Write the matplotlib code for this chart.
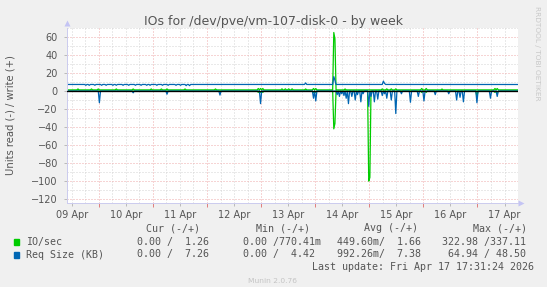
import numpy as np
import matplotlib
matplotlib.use('Agg')
import matplotlib.pyplot as plt
import matplotlib.dates as mdates
from matplotlib.patches import Rectangle
from datetime import datetime, timedelta

W, H = 547, 287

# graph window, 30 minute samples like munin's weekly rra
start = datetime(2026, 4, 9, 9, 45)
span_hours = 200
step = 0.5

# values (hours after start -> value),
# every other sample sits at the base value
io_write_base = 1.26
io_write_hours = [5, 11, 14, 22, 29.5, 37.5, 42, 44.5, 52.5, 66, 85, 86, 87,
                  95.5, 97, 98.5, 100, 106, 109.5, 110.5, 118.5, 119, 123.5,
                  140, 142, 144, 146, 157.5, 159.5, 166.5, 190, 191]
io_write_vals = [2.3, 2.3, 2.3, 2.3, 2.3, 2.3, 2.3, 2.3, 2.3, 2.3, 2.8, 2.8, 2.8,
                 2.4, 2.4, 2.4, 2.4, 2.3, 2.8, 2.8, 65, 58, 2.3,
                 2.4, 2.4, 2.4, 2.4, 2.8, 2.8, 2.2, 2.8, 2.8]

io_read_base = 0.0
io_read_hours = [85, 86, 87, 109.5, 110.5, 118.5, 119, 134, 134.5, 157.5,
                 159.5, 182, 190, 191]
io_read_vals = [1.5, 1.5, 1.5, 1.5, 1.5, 42, 36, 100, 96, 1.5,
                1.5, 6, 1.5, 1.5]

req_write_base = 7.3
req_write_hours = [8.5, 10, 12.5, 15.5, 17.5, 20.5, 22, 25, 27.5, 30.5, 33,
                   35.5, 37, 40, 42.5, 45, 48.5, 50.5, 53, 54.5,
                   106, 118.5, 119, 140.5, 141, 200]
req_write_vals = [6.4, 6.4, 6.4, 6.4, 6.4, 6.4, 6.4, 6.4, 6.4, 6.4, 6.4,
                  6.4, 6.4, 6.4, 6.4, 6.4, 6.4, 6.4, 6.0, 6.0,
                  9, 16, 12, 11, 8.5, 7.26]

req_read_base = 0.0
req_read_hours = [14.5, 29.5, 44.5, 68, 86, 109.5, 110.5, 120, 121, 122, 123,
                  124, 125, 126.5, 128, 129, 130.5, 131.5, 134, 135, 136.5,
                  138, 140, 141, 142.2, 144.2, 146, 148.5, 152.5, 156, 158.5,
                  163.5, 169.5, 173, 174.5, 176, 182, 188, 191]
req_read_vals = [13, 2, 3.5, 4.5, 14, 8, 11, 4, 6, 3, 5,
                 8, 14, 6, 10, 4, 12, 3, 17, 6, 12,
                 9, 5, 3, 8, 10, 25, 3, 12.5, 6, 11,
                 4, 3, 10, 7, 12, 13, 8, 6]

day_labels = ['09 Apr', '10 Apr', '11 Apr', '12 Apr', '13 Apr', '14 Apr',
              '15 Apr', '16 Apr', '17 Apr']
day_numbers = [9, 10, 11, 12, 13, 14, 15, 16, 17]

legend_names = ['IO/sec', 'Req Size (KB)']
legend_colors = ['#00CC00', '#0066B3']
legend_headers = ['Cur (-/+)', 'Min (-/+)', 'Avg (-/+)', 'Max (-/+)']
legend_cur = ['0.00 /  1.26', '0.00 /  7.26']
legend_min = ['0.00 /770.41m', '0.00 /  4.42']
legend_avg = ['449.60m/  1.66', '992.26m/  7.38']
legend_max = ['322.98 /337.11', ' 64.94 / 48.50']
last_update = 'Last update: Fri Apr 17 17:31:24 2026'


def build(base, hours, vals):
    n = int(span_hours / step) + 1
    s = np.full(n, base, dtype=float)
    for h, v in zip(hours, vals):
        s[int(round(h / step))] = v
    return s


def fx(px):
    return px / W


def fy(py):
    return 1 - py / H


times = [start + timedelta(hours=step * k) for k in range(int(span_hours / step) + 1)]
io_write = build(io_write_base, io_write_hours, io_write_vals)
io_read = build(io_read_base, io_read_hours, io_read_vals)
req_write = build(req_write_base, req_write_hours, req_write_vals)
req_read = build(req_read_base, req_read_hours, req_read_vals)

fig = plt.figure(figsize=(W / 100, H / 100), dpi=100, facecolor='#F0F0F0')
left, right, top, bottom = 66.7, 517.5, 28, 202.7
ax = fig.add_axes([fx(left), fy(bottom), (right - left) / W, (bottom - top) / H])
ax.set_facecolor('white')

t_end = start + timedelta(hours=span_hours)
ax.set_xlim(start, t_end)
ax.set_ylim(-124, 70)

# grid: gray every 6 hours / 10 units, red at midnight / every 20
minor_ls = (0, (1, 2))
t = datetime(2026, 4, 9, 12)
while t < t_end:
    if t.hour == 0:
        ax.axvline(t, color='#eeaaaa', lw=0.72, ls=minor_ls, zorder=0.5)
    else:
        ax.axvline(t, color='#d4d4d4', lw=0.72, ls=minor_ls, zorder=0.5)
    t += timedelta(hours=6)
for y in range(-120, 71, 10):
    if y % 20 == 0:
        ax.axhline(y, color='#eeaaaa', lw=0.72, ls=minor_ls, zorder=0.5)
    else:
        ax.axhline(y, color='#d4d4d4', lw=0.72, ls=minor_ls, zorder=0.5)

# series, negative side is the read value
ax.plot(times, -io_read, color='#00CC00', lw=0.9, zorder=2)
ax.plot(times, io_write, color='#00CC00', lw=0.9, zorder=2)
ax.plot(times, -req_read, color='#0066B3', lw=0.9, zorder=2)
ax.plot(times, req_write, color='#0066B3', lw=0.9, zorder=2)
ax.axhline(0, color='black', lw=0.95, zorder=3)

# axes
for side in ['top', 'right']:
    ax.spines[side].set_visible(False)
for side in ['left', 'bottom']:
    ax.spines[side].set_color('#ccccee')
    ax.spines[side].set_linewidth(0.72)
ax.plot([0], [1.027], marker='^', ms=4.5, color='#c4c4f4', mec='none',
        transform=ax.transAxes, clip_on=False)
ax.plot([1.007], [0], marker='>', ms=4.5, color='#c4c4f4', mec='none',
        transform=ax.transAxes, clip_on=False)

noons = [datetime(2026, 4, d, 12) for d in day_numbers]
midnights = [datetime(2026, 4, d) for d in day_numbers[1:]]
ax.set_xticks(noons)
ax.set_xticklabels(day_labels)
ax.set_xticks(midnights, minor=True)
ax.tick_params(axis='x', which='major', length=2, width=0.72, color='#bbbbbb',
               pad=3, labelsize=7, labelcolor='#555555')
ax.tick_params(axis='x', which='minor', length=3, width=0.72, color='#e08080')
ax.set_yticks(range(-120, 61, 20))
ax.tick_params(axis='y', length=2, width=0.72, color='#bbbbbb', pad=4.3,
               labelsize=7, labelcolor='#555555')

# texts
fig.text(fx(273.5), fy(24.5), 'IOs for /dev/pve/vm-107-disk-0 - by week',
         ha='center', va='baseline', fontsize=9, color='#555555')
fig.text(fx(11), fy(115), 'Units read (-) / write (+)', rotation=90,
         ha='center', va='center', fontsize=7.2, color='#555555')
fig.text(fx(537), fy(53.5), 'RRDTOOL / TOBI OETIKER', rotation=270,
         ha='center', va='center', fontsize=5.3, color='#c8c8c8')
fig.text(fx(273), fy(280.7), 'Munin 2.0.76', ha='center', va='center',
         fontsize=5.4, color='#c4c4c4')

mono = dict(family='DejaVu Sans Mono', fontsize=7.2, color='#555555', va='center')
for x, h in zip([146.5, 255.8, 364, 472.8], legend_headers):
    fig.text(fx(x), fy(228.4), h, **mono)
row_y = [241.6, 254.5]
for i in range(2):
    fig.add_artist(Rectangle((fx(14), fy(row_y[i] + 3)), 5.2 / W, 5.2 / H,
                             transform=fig.transFigure, color=legend_colors[i]))
    fig.text(fx(26.2), fy(row_y[i]), legend_names[i], **mono)
    fig.text(fx(137), fy(row_y[i]), legend_cur[i], **mono)
    fig.text(fx(243), fy(row_y[i]), legend_min[i], **mono)
    fig.text(fx(336.7), fy(row_y[i]), legend_avg[i], **mono)
    fig.text(fx(442.4), fy(row_y[i]), legend_max[i], **mono)
fig.text(fx(311.6), fy(266.8), last_update, **mono)

fig.savefig('out.png', dpi=100, facecolor=fig.get_facecolor())
